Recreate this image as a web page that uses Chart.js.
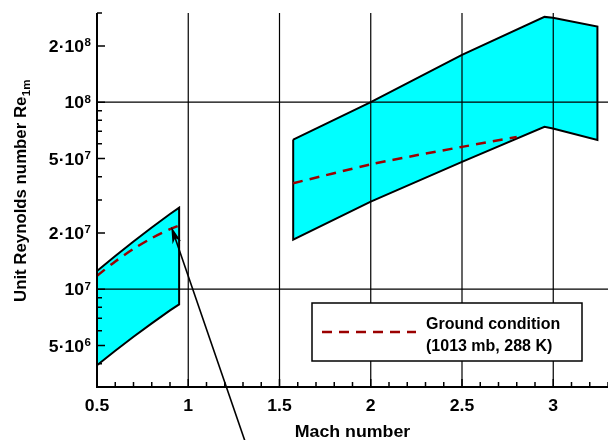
<!DOCTYPE html>
<html><head><meta charset="utf-8">
<script src="https://cdn.jsdelivr.net/npm/chart.js@4.4.1/dist/chart.umd.min.js"></script>
<style>html,body{margin:0;padding:0;background:#fff}#wrap{width:608px;height:440px;position:relative}</style>
</head><body><div id="wrap"><canvas id="c"></canvas></div>
<script>
// Envelope 1 (subsonic / transonic), outline order around the polygon
const subsonicMach = [0.5, 0.6, 0.7, 0.8, 0.9, 0.95, 0.95, 0.9, 0.8, 0.7, 0.6, 0.5, 0.5];
const subsonicRe   = [1.25e7, 1.506e7, 1.80e7, 2.14e7, 2.525e7, 2.73e7, 8.3e6, 7.70e6, 6.57e6, 5.57e6, 4.69e6, 3.92e6, 1.25e7];
// Envelope 2 (supersonic)
const supersonicMach = [1.575, 2.0, 2.5, 2.952, 2.998, 3.242, 3.242, 2.998, 2.952, 2.5, 2.0, 1.575, 1.575];
const supersonicRe   = [6.31e7, 1.0e8, 1.79e8, 2.86e8, 2.83e8, 2.54e8, 6.28e7, 7.24e7, 7.39e7, 4.8e7, 2.94e7, 1.84e7, 6.31e7];
// Ground condition (1013 mb, 288 K)
const groundMach1 = [0.5, 0.6, 0.7, 0.8, 0.9, 0.95];
const groundRe1   = [1.18e7, 1.407e7, 1.643e7, 1.876e7, 2.094e7, 2.19e7];
const groundMach2 = [1.575, 2.0, 2.25, 2.5, 2.8];
const groundRe2   = [3.69e7, 4.65e7, 5.2e7, 5.77e7, 6.52e7];
// Axis ticks
const xTickLabels = [0.5, 1, 1.5, 2, 2.5, 3];
const xGrid = [1, 1.5, 2, 2.5, 3];
const yTickValues = [5e6, 1e7, 2e7, 5e7, 1e8, 2e8];
const yTickMantissa = ['5·10', '10', '2·10', '5·10', '10', '2·10'];
const yTickExp = ['6', '7', '7', '7', '8', '8'];
const yGrid = [1e7, 1e8];
// Arrow annotation (tip and tail, in data units)
const arrowTip = {x: 0.907, y: 2.16e7};
const arrowTail = {x: 1.32, y: 1.45e6};

const pts = (xs, ys) => xs.map((x, i) => ({x, y: ys[i]}));
const FONT = '"Liberation Sans", Arial, sans-serif';
const RED = '#9B0000';

function txt(ctx, s, x, y, font, align, sx) {
  ctx.save();
  ctx.font = font;
  const w = ctx.measureText(s).width * sx;
  const x0 = align === 'center' ? x - w / 2 : align === 'right' ? x - w : x;
  ctx.translate(x0, y);
  ctx.scale(sx, 1);
  ctx.textAlign = 'left';
  ctx.textBaseline = 'alphabetic';
  ctx.fillText(s, 0, 0);
  ctx.restore();
  return w;
}

const customDraw = {
  id: 'customDraw',
  beforeDatasetDraw(chart, args) {
    if (args.index !== 1) return;
    const {ctx, chartArea: a, scales: {x, y}} = chart;
    ctx.save();
    ctx.strokeStyle = '#000';
    ctx.lineWidth = 1.2;
    ctx.beginPath();
    xGrid.forEach(v => { const px = x.getPixelForValue(v); ctx.moveTo(px, a.top); ctx.lineTo(px, a.bottom); });
    yGrid.forEach(v => { const py = y.getPixelForValue(v); ctx.moveTo(a.left, py); ctx.lineTo(a.right, py); });
    ctx.stroke();
    ctx.restore();
  },
  afterDraw(chart) {
    const {ctx, chartArea: a, scales: {x, y}} = chart;
    ctx.save();
    // Axis lines
    ctx.strokeStyle = '#000';
    ctx.lineWidth = 2;
    ctx.beginPath();
    ctx.moveTo(a.left, a.top); ctx.lineTo(a.left, a.bottom); ctx.lineTo(a.right, a.bottom);
    ctx.stroke();
    // y ticks (inward)
    ctx.lineWidth = 1.5;
    ctx.beginPath();
    for (let d = 1e6; d <= 1e8; d *= 10) {
      for (let m = 1; m <= 9; m++) {
        const v = m * d;
        if (v < 3e6 * 0.999 || v > 3e8 * 1.001) continue;
        const py = y.getPixelForValue(v);
        const major = yTickValues.some(t => Math.abs(t - v) / v < 1e-6);
        ctx.moveTo(a.left, py); ctx.lineTo(a.left + (major ? 8 : 5), py);
      }
    }
    // x ticks (inward)
    for (let i = 5; i <= 33; i++) {
      const v = i / 10;
      const px = x.getPixelForValue(v);
      const major = i % 5 === 0;
      ctx.moveTo(px, a.bottom); ctx.lineTo(px, a.bottom - (major ? 8 : 5));
    }
    ctx.stroke();
    ctx.fillStyle = '#000';
    // y tick labels
    yTickValues.forEach((v, i) => {
      const py = y.getPixelForValue(v);
      const right = a.left - 6;
      const we = txt(ctx, yTickExp[i], right, py + 0.5, 'bold 11px ' + FONT, 'right', 1.05);
      txt(ctx, yTickMantissa[i], right - we - 0.5, py + 6, 'bold 16px ' + FONT, 'right', 1.1);
    });
    // x tick labels
    xTickLabels.forEach(v => txt(ctx, String(v), x.getPixelForValue(v), a.bottom + 24, 'bold 16px ' + FONT, 'center', 1.1));
    // x title
    txt(ctx, 'Mach number', (a.left + a.right) / 2, a.bottom + 50, 'bold 16px ' + FONT, 'center', 1.11);
    // y title
    ctx.save();
    ctx.translate(26, 302);
    ctx.rotate(-Math.PI / 2);
    const w1 = txt(ctx, 'Unit Reynolds number Re', 0, 0, 'bold 16px ' + FONT, 'left', 1.05);
    txt(ctx, '1m', w1 + 0.5, 4, 'bold 11px ' + FONT, 'left', 1.05);
    ctx.restore();
    // Legend box
    const lx = a.left + 215, ly = a.top + 290, lw = 270, lh = 58;
    ctx.fillStyle = '#fff';
    ctx.fillRect(lx, ly, lw, lh);
    ctx.strokeStyle = '#000'; ctx.lineWidth = 1.5;
    ctx.strokeRect(lx, ly, lw, lh);
    ctx.strokeStyle = RED; ctx.lineWidth = 2.5; ctx.setLineDash([10, 7]);
    ctx.beginPath(); ctx.moveTo(lx + 10, ly + 29); ctx.lineTo(lx + 104, ly + 29); ctx.stroke();
    ctx.setLineDash([]);
    ctx.fillStyle = '#000';
    txt(ctx, 'Ground condition', lx + 114, ly + 26, 'bold 16px ' + FONT, 'left', 1.0);
    txt(ctx, '(1013 mb, 288 K)', lx + 114, ly + 48, 'bold 16px ' + FONT, 'left', 1.0);
    // Arrow
    const tx = x.getPixelForValue(arrowTip.x), ty = y.getPixelForValue(arrowTip.y);
    const sx = x.getPixelForValue(arrowTail.x), sy = y.getPixelForValue(arrowTail.y);
    const ang = Math.atan2(ty - sy, tx - sx);
    const L = 17, W = 4.5;
    ctx.strokeStyle = '#000'; ctx.lineWidth = 1.6;
    ctx.beginPath(); ctx.moveTo(sx, sy); ctx.lineTo(tx - Math.cos(ang) * 10, ty - Math.sin(ang) * 10); ctx.stroke();
    ctx.beginPath();
    ctx.moveTo(tx, ty);
    const bx = tx - Math.cos(ang) * L, by = ty - Math.sin(ang) * L;
    ctx.lineTo(bx + Math.sin(ang) * W, by - Math.cos(ang) * W);
    ctx.lineTo(tx - Math.cos(ang) * (L - 5), ty - Math.sin(ang) * (L - 5));
    ctx.lineTo(bx - Math.sin(ang) * W, by + Math.cos(ang) * W);
    ctx.closePath();
    ctx.fill();
    ctx.restore();
  }
};

new Chart(document.getElementById('c'), {
  type: 'line',
  data: {
    datasets: [
      {label: 'Ground condition 2', data: pts(groundMach2, groundRe2), borderColor: RED, borderWidth: 2.5, borderDash: [10, 7], pointRadius: 0, fill: false, tension: 0.3},
      {label: 'Ground condition 1', data: pts(groundMach1, groundRe1), borderColor: RED, borderWidth: 2.5, borderDash: [10, 7], pointRadius: 0, fill: false, tension: 0.3},
      {label: 'Supersonic', data: pts(supersonicMach, supersonicRe), borderColor: '#000', borderWidth: 2, backgroundColor: '#00FFFF', fill: 'shape', pointRadius: 0, tension: 0},
      {label: 'Subsonic', data: pts(subsonicMach, subsonicRe), borderColor: '#000', borderWidth: 2, backgroundColor: '#00FFFF', fill: 'shape', pointRadius: 0, tension: 0}
    ]
  },
  options: {
    responsive: true,
    maintainAspectRatio: false,
    animation: false,
    layout: {padding: {top: 13, right: 0, left: 0, bottom: 0}},
    plugins: {legend: {display: false}, tooltip: {enabled: false}},
    scales: {
      x: {type: 'linear', min: 0.5, max: 3.3, grid: {display: false}, border: {display: false}, ticks: {display: false},
          afterFit: s => { s.height = 53; }},
      y: {type: 'logarithmic', min: 3e6, max: 3e8, grid: {display: false}, border: {display: false}, ticks: {display: false},
          afterFit: s => { s.width = 97; }}
    }
  },
  plugins: [customDraw]
});
</script></body></html>
